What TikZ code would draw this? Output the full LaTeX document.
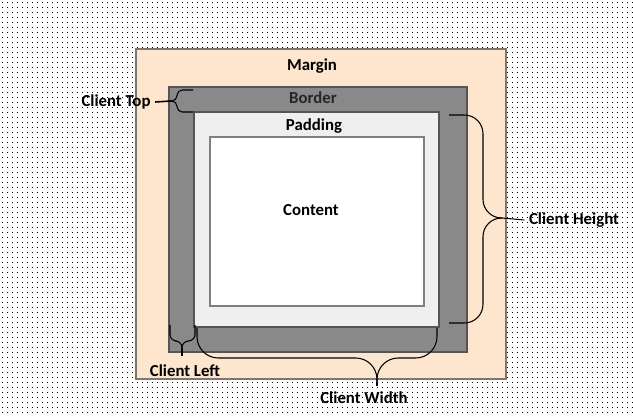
\documentclass[tikz,border=0pt]{standalone}
\usepackage{fontspec}
\setmainfont{Carlito}
\definecolor{marginfill}{RGB}{253,229,206}
\definecolor{marginline}{RGB}{125,118,110}
\definecolor{borderfill}{RGB}{137,137,137}
\definecolor{borderline}{RGB}{85,85,85}
\definecolor{paddingfill}{RGB}{239,239,239}
\definecolor{bordertext}{RGB}{38,38,38}
\begin{document}
\begin{tikzpicture}[x=0.75pt, y=-0.75pt,
    every node/.style={font=\bfseries\fontsize{12.6}{14}\selectfont},
    boxlabel/.style={inner sep=1pt},
    bracepath/.style={black, line width=0.8pt, rounded corners=#1},
    bracepath/.default=14pt]
  % background: dotted page
  \fill[white] (0,0) rectangle (633,417);
  \foreach \x in {2,7,...,632}
    \foreach \y in {2,7,...,416}
      \fill[black] (\x,\y) rectangle ++(1,1);
  \useasboundingbox (0,0) rectangle (633,417);
  % the box model
  \draw[fill=marginfill, draw=marginline, line width=1.1pt] (136,49) rectangle (506,379);
  \draw[fill=borderfill, draw=borderline, line width=1.1pt] (169,87) rectangle (467,352);
  \draw[fill=paddingfill, draw=borderline, line width=1.1pt] (194,112) rectangle (439,327);
  \draw[fill=white, draw=gray, line width=0.8pt] (210,137) rectangle (424,306);
  \node[boxlabel] (margin) at (312,66) {Margin};
  \node[boxlabel, text=bordertext] (border) at (313,98) {Border};
  \node[boxlabel] (padding) at (314,126) {Padding};
  \node[boxlabel] (content) at (311,210) {Content};
  % braces
  \coordinate (toptip) at (171,101);
  \draw[bracepath=4pt] (193,90) -- (177,90) -- (177,101) -- (toptip);
  \draw[bracepath=4pt] (toptip) -- (177,101) -- (177,112) -- (193,112);
  \coordinate (heighttip) at (502,218);
  \draw[bracepath] (449,115) -- (483,115) -- (483,218) -- (heighttip);
  \draw[bracepath] (heighttip) -- (483,218) -- (483,323) -- (449,323);
  \coordinate (lefttip) at (182,348);
  \draw[bracepath=5pt] (170,325) -- (170,341) -- (182,341) -- (lefttip);
  \draw[bracepath=5pt] (lefttip) -- (182,341) -- (195,341) -- (195,325);
  \coordinate (widthtip) at (377,382);
  \draw[bracepath=16pt] (197,328) -- (197,358) -- (377,358) -- (widthtip);
  \draw[bracepath=16pt] (widthtip) -- (377,358) -- (437,358) -- (437,328);
  % client labels
  \node (ctop) at (116,102) {Client Top};
  \node (cheight) at (574,220) {Client Height};
  \node (cleft) at (185,371) {Client Left};
  \node (cwidth) at (364,398) {Client Width};
  \draw[line width=1.2pt] (toptip) -- (ctop.east);
  \draw[line width=0.8pt] (heighttip) -- (cheight.west);
  \draw[line width=0.8pt] (lefttip) -- ([yshift=3pt]cleft.north -| lefttip);
  \draw[line width=0.8pt] (widthtip) -- ([yshift=1pt]cwidth.north -| widthtip);
\end{tikzpicture}
\end{document}
